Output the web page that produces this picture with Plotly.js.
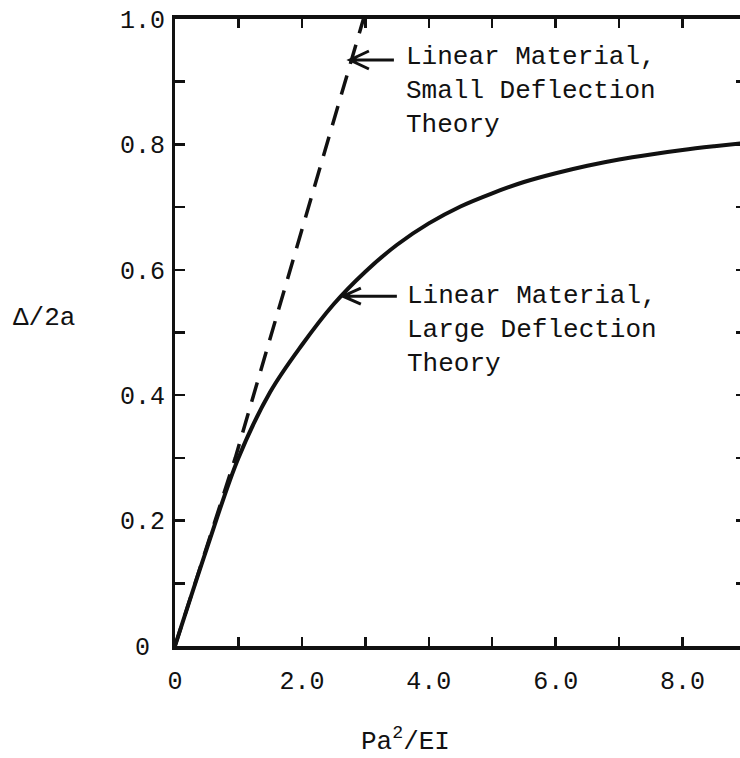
<!DOCTYPE html>
<html>
<head>
<meta charset="utf-8">
<script src="https://cdn.plot.ly/plotly-3.0.1.min.js"></script>
<style>
  html, body { margin: 0; padding: 0; background: #fff; overflow: hidden; }
  #chart { width: 746px; height: 758px; }
</style>
</head>
<body>
<div id="chart"></div>
<script>
// Large deflection theory (linear material): deflection ratio vs load parameter
const largeX = [0, 0.5, 1.0, 1.5, 2.0, 2.5, 3.0, 3.5, 4.0, 4.5, 5.0, 5.5, 6.0, 6.5, 7.0, 7.5, 8.0, 8.5, 8.95];
const largeY = [0, 0.155, 0.30, 0.405, 0.48, 0.545, 0.597, 0.64, 0.674, 0.701, 0.722, 0.740, 0.754, 0.766, 0.776, 0.784, 0.791, 0.797, 0.802];

// Small deflection theory (linear material)
const smallX = [0, 0.95, 2.97];
const smallY = [0, 0.30, 1.0];

// Axis ticks and labels
const xTickVals = [0, 2, 4, 6, 8];
const xTickText = ['0', '2.0', '4.0', '6.0', '8.0'];
const yTickVals = [0, 0.2, 0.4, 0.6, 0.8, 1.0];
const yTickText = ['0\u00a0', '0.2', '0.4', '0.6', '0.8', '1.0'];

const FONT = 'Liberation Mono, Courier New, monospace';
const INK = '#111';

const traces = [
  {
    x: largeX, y: largeY, type: 'scatter', mode: 'lines',
    line: { color: INK, width: 4, shape: 'spline', smoothing: 1.0 },
    hoverinfo: 'skip'
  },
  {
    x: smallX, y: smallY, type: 'scatter', mode: 'lines',
    line: { color: INK, width: 3.5, dash: '20px,12px' },
    hoverinfo: 'skip'
  }
];

const layout = {
  width: 746, height: 758,
  margin: { l: 175, r: 0, t: 19, b: 112 },
  paper_bgcolor: '#fff', plot_bgcolor: '#fff',
  showlegend: false,
  font: { family: FONT, size: 25, color: INK },
  xaxis: {
    range: [0, 9.0], showgrid: false, zeroline: false,
    showline: true, linewidth: 4, linecolor: INK, mirror: 'ticks',
    ticks: 'inside', ticklen: 9, tickwidth: 2.5, tickcolor: INK,
    tickmode: 'array', tickvals: xTickVals, ticktext: xTickText,
    minor: { dtick: 1, ticks: 'inside', ticklen: 9, tickwidth: 2.5, tickcolor: INK, showgrid: false },
    ticklabelstandoff: 9, automargin: false,
    tickfont: { family: FONT, size: 25, color: INK }
  },
  yaxis: {
    range: [0, 1.0], showgrid: false, zeroline: false,
    showline: true, linewidth: 3, linecolor: INK, mirror: 'ticks',
    ticks: 'inside', ticklen: 10, tickwidth: 2.5, tickcolor: INK,
    tickmode: 'array', tickvals: yTickVals, ticktext: yTickText,
    minor: { dtick: 0.1, ticks: 'inside', ticklen: 10, tickwidth: 2.5, tickcolor: INK, showgrid: false },
    ticklabelstandoff: 2, automargin: false,
    tickfont: { family: FONT, size: 25, color: INK }
  },
  annotations: [
    {
      text: 'Linear Material,<br>Small Deflection<br>Theory',
      x: 3.61, y: 0.885, xref: 'x', yref: 'y',
      xanchor: 'left', yanchor: 'middle', align: 'left', showarrow: false,
      font: { family: FONT, size: 26, color: INK }
    },
    {
      text: 'Linear Material,<br>Large Deflection<br>Theory',
      x: 3.63, y: 0.504, xref: 'x', yref: 'y',
      xanchor: 'left', yanchor: 'middle', align: 'left', showarrow: false,
      font: { family: FONT, size: 26, color: INK }
    },
    {
      text: '\u0394/2a',
      x: -0.23, y: 0.523, xref: 'paper', yref: 'paper',
      xanchor: 'center', yanchor: 'middle', showarrow: false,
      font: { family: FONT, size: 26, color: INK }
    },
    {
      text: 'Pa<sup>2</sup>/EI',
      x: 0.404, y: -0.15, xref: 'paper', yref: 'paper',
      xanchor: 'center', yanchor: 'middle', showarrow: false,
      font: { family: FONT, size: 26, color: INK }
    }
  ],
  shapes: [
    // open arrow pointing at the small deflection line
    {
      type: 'path', xref: 'x', yref: 'y',
      xsizemode: 'pixel', ysizemode: 'pixel', xanchor: 2.757, yanchor: 0.9346,
      path: 'M 0,0 L 44,0 M 19,9 L 0,0 L 19,-9',
      line: { color: INK, width: 3 }
    },
    // open arrow pointing at the large deflection curve
    {
      type: 'path', xref: 'x', yref: 'y',
      xsizemode: 'pixel', ysizemode: 'pixel', xanchor: 2.646, yanchor: 0.558,
      path: 'M 0,0 L 54,0 M 18,8 L 0,0 L 18,-8',
      line: { color: INK, width: 3 }
    }
  ]
};

Plotly.newPlot('chart', traces, layout, { displayModeBar: false, staticPlot: true });
</script>
</body>
</html>
